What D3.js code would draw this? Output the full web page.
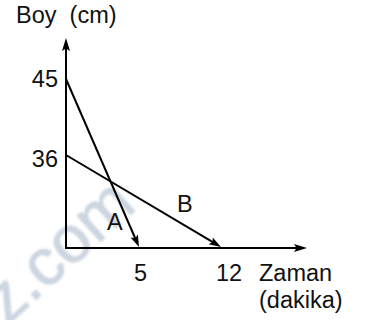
<!DOCTYPE html>
<html>
<head>
<meta charset="utf-8">
<script src="https://cdn.jsdelivr.net/npm/d3@7"></script>
<style>
  html, body { margin: 0; padding: 0; background: #fff; }
  svg { display: block; }
  text { font-family: "Liberation Sans", Arial, sans-serif; fill: #111; }
</style>
</head>
<body>
<svg id="chart" width="374" height="320"></svg>
<script>
// ---- data ----
const seriesNames = ["A", "B"];
const startHeights = [45, 36];   // cm at t = 0
const endTimes = [5, 12];        // minutes when height reaches 0
const yTickValues = [45, 36];
const xTickValues = [5, 12];
const yAxisTitle = "Boy  (cm)";
const xAxisTitle = ["Zaman", "(dakika)"];
const watermark = "z.com";

// ---- layout ----
const svg = d3.select("#chart");
const x = d3.scaleLinear().domain([0, 5, 12]).range([66, 139, 221]);
const y = d3.scaleLinear().domain([0, 36, 45]).range([248, 155, 79]);
const fs = 23.5;

// watermark
svg.append("text")
  .attr("transform", "translate(138,208) rotate(-42)")
  .attr("text-anchor", "end")
  .style("font-size", "66px")
  .style("fill", "#ccd5e0")
  .style("stroke", "#ccd5e0")
  .style("stroke-width", "1px")
  .style("filter", "blur(0.8px)")
  .text(watermark);

// arrowhead helper
function arrowHead(tipX, tipY, angle, len, halfW) {
  const p = [[0, 0], [-len, -halfW], [-len * 0.8, 0], [-len, halfW]];
  const c = Math.cos(angle), s = Math.sin(angle);
  const pts = p.map(([a, b]) => [tipX + a * c - b * s, tipY + a * s + b * c]);
  svg.append("path").attr("d", d3.line()(pts) + "Z").attr("fill", "#000");
}

// axes
const x0 = x(0), y0 = y(0);
svg.append("line").attr("x1", x0).attr("y1", y0 + 1).attr("x2", x0).attr("y2", 44)
  .attr("stroke", "#000").attr("stroke-width", 2);
arrowHead(x0, 38, -Math.PI / 2, 13, 4);
svg.append("line").attr("x1", x0 - 1).attr("y1", y0).attr("x2", 300).attr("y2", y0)
  .attr("stroke", "#000").attr("stroke-width", 2);
arrowHead(307, y0, 0, 13, 4);

// series lines
seriesNames.forEach((name, i) => {
  const x1 = x(0), y1 = y(startHeights[i]);
  const x2 = x(endTimes[i]), y2 = y(0) - 1;
  const ang = Math.atan2(y2 - y1, x2 - x1);
  const back = 9;
  svg.append("line")
    .attr("x1", x1).attr("y1", y1)
    .attr("x2", x2 - back * Math.cos(ang)).attr("y2", y2 - back * Math.sin(ang))
    .attr("stroke", "#000").attr("stroke-width", 2);
  arrowHead(x2, y2, ang, 12, 4);
});

// series labels
const labelPos = [[107, 230], [177, 212]];
seriesNames.forEach((name, i) => {
  svg.append("text").attr("x", labelPos[i][0]).attr("y", labelPos[i][1])
    .style("font-size", fs + "px").text(name);
});

// y tick labels
const yDy = [7.5, 12];
yTickValues.forEach((v, i) => {
  svg.append("text").attr("x", 58).attr("y", y(v) + yDy[i])
    .attr("text-anchor", "end").style("font-size", fs + "px").text(v);
});

// x tick labels
xTickValues.forEach((v) => {
  svg.append("text").attr("x", x(v) - 5).attr("y", 281)
    .style("font-size", fs + "px").text(v);
});

// axis titles
svg.append("text").attr("x", 16).attr("y", 23)
  .style("font-size", fs + "px").style("white-space", "pre").text(yAxisTitle);
xAxisTitle.forEach((t, i) => {
  svg.append("text").attr("x", 259).attr("y", 281 + i * 27)
    .style("font-size", fs + "px").text(t);
});
</script>
</body>
</html>
